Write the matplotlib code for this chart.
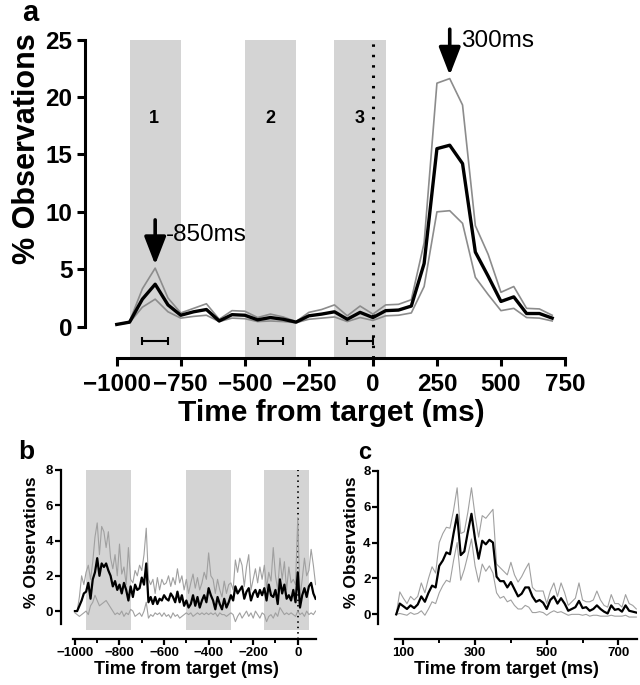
import numpy as np
import matplotlib
matplotlib.use("Agg")
from matplotlib import pyplot as plt

plt.rcParams['font.family'] = ['Liberation Sans', 'DejaVu Sans']
plt.rcParams['font.weight'] = 'bold'

# ---- panel a: 50 ms bins ----
t_a = list(range(-1000, 701, 50))
mean_a = [0.2, 0.4, 2.4, 3.7, 1.9, 1.0, 1.3, 1.5, 0.5, 1.05, 1.0, 0.6, 0.8, 0.65, 0.4,
          0.95, 1.1, 1.3, 0.65, 1.25, 0.8, 1.4, 1.45, 1.8, 5.5, 15.5, 15.8, 14.2, 6.5, 4.4,
          2.2, 2.6, 1.15, 1.15, 0.75]
upper_a = [0.2, 0.45, 3.3, 5.1, 2.5, 1.2, 1.6, 2.0, 0.65, 1.4, 1.35, 0.8, 1.1, 0.85, 0.45,
           1.25, 1.5, 1.9, 0.95, 1.8, 1.1, 1.9, 1.95, 2.35, 7.3, 21.2, 21.6, 19.3, 8.8, 6.3,
           3.0, 3.5, 1.6, 1.55, 1.0]
lower_a = [0.2, 0.35, 1.7, 2.4, 1.3, 0.75, 0.9, 1.0, 0.45, 0.75, 0.7, 0.45, 0.5, 0.45, 0.35,
           0.65, 0.75, 0.85, 0.45, 0.8, 0.55, 0.95, 1.0, 1.2, 3.5, 10.0, 10.1, 9.0, 4.3, 2.8,
           1.4, 1.6, 0.8, 0.75, 0.5]

# analysis windows (shaded) and their labels
windows = [(-950, -750), (-500, -300), (-150, 50)]
window_names = ['1', '2', '3']
window_label_x = [-855, -400, -52]
# horizontal bars under the curve
bar_centers = [-850, -400, -50]
bar_half = 50
bar_y = -1.2

# ---- panel b: 10 ms bins before target ----
t_b = list(range(-1000, 81, 10))
mean_b = [0.0, 0.0, 0.3, 0.6, 1.0,
          1.1, 1.6, 0.7, 1.8, 2.2, 3.0,
          2.0, 2.7, 2.5, 2.7, 2.3,
          2.0, 1.4, 1.7, 1.2, 1.5,
          1.0, 1.6, 1.2, 0.6, 1.4,
          0.8, 1.5, 1.2, 1.3, 1.9,
          1.5, 2.7, 0.5, 0.8, 0.4, 0.8, 0.4, 0.7, 0.6, 0.9,
          0.7, 0.6, 1.0, 0.8, 0.5, 1.1, 0.5, 0.9, 0.3, 0.6,
          0.2, 0.4, 0.9, 0.3, 0.8, 0.2, 0.6, 0.9, 0.5, 1.3,
          0.9, 0.6, 0.1, 0.8, 0.4, 0.1, 0.7, 0.2, 0.5, 0.9,
          0.6, 1.4, 1.0, 1.2, 1.4, 0.7, 1.1, 1.3, 0.6, 1.0,
          1.2, 0.8, 1.2, 0.9, 1.3, 0.6, 1.5, 0.9, 0.8, 1.2,
          0.4, 1.8, 1.0, 1.5, 0.7, 0.9, 0.6, 1.2, 0.5, 2.2,
          0.2, 0.9, 1.3, 0.8, 1.4, 1.6, 1.0, 0.7]
upper_b = [0.0, 0.0, 0.8, 2.0, 1.5, 2.2, 2.6, 1.8, 2.8, 4.2,
           5.0, 3.2, 4.8, 4.5, 3.6, 4.5, 3.0, 2.4, 3.2, 2.0,
           3.8, 2.1, 2.5, 1.5, 3.6, 1.8, 1.6, 2.3, 2.0, 2.6,
           2.3, 3.2, 4.7, 1.8, 1.5, 1.8, 1.0, 1.9, 1.2, 1.8,
           1.5, 1.6, 2.0, 1.4, 1.9, 1.5, 2.4, 1.6, 2.0, 1.2,
           1.8, 1.0, 1.6, 2.1, 1.3, 1.9, 1.2, 1.6, 2.2, 1.8,
           3.3, 2.0, 1.8, 1.0, 1.8, 1.2, 0.8, 1.7, 1.0, 1.5,
           1.6, 1.2, 2.9, 2.2, 3.0, 2.6, 1.4, 2.5, 3.2, 1.2,
           1.8, 2.4, 1.6, 2.5, 1.8, 2.6, 1.3, 2.2, 1.7, 3.6,
           2.0, 1.2, 3.0, 1.8, 2.8, 1.2, 2.5, 1.6, 1.8, 1.5,
           5.3, 0.8, 1.8, 3.0, 2.0, 2.3, 3.5, 2.6, 1.5]
lower_b = [-0.1, -0.2, -0.3, -0.2, -0.1, 0.0, -0.2, 0.3, 0.5, 0.9,
           0.6, 0.3, 0.4, 0.5, 0.6, 0.4, 0.2, 0.0, -0.2, -0.1,
           -0.2, 0.0, -0.3, -0.1, -0.2, 0.1, 0.0, -0.3, -0.2, -0.1,
           -0.3, 0.0, 0.5, -0.4, -0.2, -0.3, -0.1, -0.2, -0.1, -0.3,
           -0.1, -0.3, -0.2, -0.4, -0.1, -0.3, -0.2, -0.4, -0.3, -0.2,
           -0.1, -0.2, -0.1, -0.3, -0.2, -0.1, -0.2, -0.1, -0.2, -0.1,
           -0.2, -0.1, -0.2, -0.1, -0.3, -0.1, -0.2, -0.2, -0.3, -0.2,
           -0.1, -0.2, -0.6, -0.3, -0.1, -0.4, -0.2, 0.0, -0.3, -0.1,
           -0.4, 0.0, -0.2, -0.4, -0.1, -0.2, -0.6, -0.3, -0.2, -0.4,
           -0.1, -0.3, 0.2, 0.0, -0.2, -0.1, -0.2, -0.1, -0.2, -0.3,
           0.0, -0.2, -0.1, -0.3, 0.0, -0.2, -0.1, -0.2, 0.0]

# ---- panel c: 10 ms bins after target ----
t_c = list(range(80, 751, 10))
mean_c = [0.0, 0.6, 0.45, 0.3, 0.5, 0.35, 0.55, 1.0, 0.7, 1.2,
          1.6, 1.5, 2.7, 3.0, 3.45, 3.35, 4.5, 5.55, 3.3, 3.5,
          4.6, 5.6, 4.2, 3.1, 4.1, 3.9, 4.15, 4.0, 2.1, 1.85,
          1.85, 1.5, 1.8, 1.4, 1.0, 1.15, 1.5, 1.5, 1.0, 0.7,
          0.8, 0.65, 0.3, 0.8, 1.0, 0.6, 0.9, 0.6, 0.2, 0.3,
          0.4, 0.75, 0.35, 0.4, 0.2, 0.3, 0.5, 0.3, 0.15, 0.05,
          0.5, 0.25, 0.3, 0.15, 0.5, 0.2, 0.15, 0.1]
upper_c = [0.0, 1.25, 0.9, 0.6, 1.0, 0.8, 1.0, 1.75, 1.2, 2.0,
           2.65, 2.3, 4.0, 4.5, 4.85, 4.8, 5.8, 7.05, 4.5, 4.6,
           5.7, 7.05, 5.5, 4.3, 5.5, 5.35, 5.6, 5.85, 2.8, 2.6,
           2.4, 2.2, 2.9, 2.2, 1.8, 2.1, 2.5, 2.85, 1.5, 1.3,
           1.3, 1.3, 0.6, 1.3, 1.75, 1.0, 1.75, 1.2, 0.5, 0.7,
           0.9, 1.75, 0.8, 0.7, 0.7, 0.8, 1.3, 0.8, 0.5, 0.4,
           1.1, 0.6, 0.6, 0.4, 1.1, 0.6, 0.5, 0.3]
lower_c = [0.0, 0.05, 0.0, -0.05, 0.1, 0.0, 0.05, 0.2, -0.05, 0.3,
           0.7, 0.6, 1.2, 1.6, 1.9, 1.8, 3.0, 4.0, 1.9, 2.5,
           3.3, 4.2, 2.7, 1.8, 2.8, 2.4, 2.7, 2.3, 1.2, 0.9,
           1.0, 0.7, 0.8, 0.5, 0.3, 0.3, 0.5, 0.4, 0.1, 0.1,
           0.15, 0.1, -0.05, 0.1, 0.2, 0.1, 0.15, 0.05, -0.05, 0.0,
           0.0, 0.0, -0.05, 0.0, -0.1, -0.05, -0.05, -0.1, -0.1, -0.1,
           -0.05, -0.1, -0.1, -0.1, -0.05, -0.15, -0.15, -0.15]

shade = '#d4d4d4'

fig = plt.figure(figsize=(6.4, 6.85), dpi=100)

# ================= panel a =================
ax = fig.add_axes([0.1328, 0.4774, 0.75, 0.4649])
for (x0, x1) in windows:
    ax.axvspan(x0, x1, color=shade, lw=0, zorder=0)
ax.axvline(0, color='k', lw=2.2, linestyle=(0, (0.8, 2.6)), zorder=1)
ax.plot(t_a, upper_a, color='#8c8c8c', lw=1.2, zorder=2)
ax.plot(t_a, lower_a, color='#8c8c8c', lw=1.2, zorder=2)
ax.plot(t_a, mean_a, color='k', lw=2.4, zorder=3)
ax.errorbar(bar_centers, [bar_y] * len(bar_centers), xerr=bar_half, fmt='none',
            ecolor='k', elinewidth=1.5, capsize=3, capthick=1.5, zorder=4)
for name, x in zip(window_names, window_label_x):
    ax.text(x, 18.1, name, ha='center', va='center', fontsize=13, fontweight='bold')

arrow = dict(arrowstyle='-|>,head_length=0.85,head_width=0.33', lw=2.6, color='k',
             shrinkA=0, shrinkB=0, mutation_scale=20)
ax.annotate('', xy=(-850, 5.4), xytext=(-850, 9.3), arrowprops=arrow)
ax.text(-810, 8.0, '-850ms', fontsize=17.5, fontweight='normal', ha='left', va='center')
ax.annotate('', xy=(300, 21.9), xytext=(300, 25.9), arrowprops=arrow, annotation_clip=False)
ax.text(345, 24.85, '300ms', fontsize=17.5, fontweight='normal', ha='left', va='center')

ax.set_xlim(-1124, 750)
ax.set_ylim(-2.72, 25)
ax.spines['top'].set_visible(False)
ax.spines['right'].set_visible(False)
ax.spines['left'].set_bounds(0, 25)
ax.spines['bottom'].set_bounds(-1000, 750)
for s in ['left', 'bottom']:
    ax.spines[s].set_linewidth(2.2)
ax.set_xticks([-1000, -750, -500, -250, 0, 250, 500, 750])
ax.set_yticks([0, 5, 10, 15, 20, 25])
ax.tick_params(axis='both', length=6, width=2.2, labelsize=17.5)
ax.tick_params(axis='y', pad=3)
ax.tick_params(axis='x', pad=5)
for lab in ax.get_xticklabels() + ax.get_yticklabels():
    lab.set_fontweight('bold')
ax.set_ylabel('% Observations', fontsize=22, fontweight='bold', va='center')
ax.yaxis.set_label_coords(-0.12, 0.656)
ax.set_xlabel('Time from target (ms)', fontsize=21.5, fontweight='bold', va='center')
ax.xaxis.set_label_coords(0.5135, -0.172)
fig.text(0.047, 0.981, 'a', fontsize=21, fontweight='bold', ha='center', va='center')

# ================= panel b =================
axb = fig.add_axes([0.0948, 0.0667, 0.399, 0.2472])
for (x0, x1) in windows:
    axb.fill_between([x0, x1], -1.08, 8, color=shade, lw=0, zorder=0)
axb.axvline(0, color='k', lw=1.3, linestyle=(0, (0.8, 2.2)), zorder=1)
axb.plot(t_b, upper_b, color='#a0a0a0', lw=0.8, zorder=2)
axb.plot(t_b, lower_b, color='#a0a0a0', lw=0.8, zorder=2)
axb.plot(t_b, mean_b, color='k', lw=1.6, zorder=3)
axb.set_xlim(-1064, 82)
axb.set_ylim(-1.6, 8)
axb.spines['top'].set_visible(False)
axb.spines['right'].set_visible(False)
axb.spines['left'].set_bounds(-0.75, 8)
axb.spines['bottom'].set_bounds(-1010, 82)
for s in ['left', 'bottom']:
    axb.spines[s].set_linewidth(1.6)
axb.set_xticks([-1000, -800, -600, -400, -200, 0])
axb.set_xticks([-900, -700, -500, -300, -100], minor=True)
axb.set_yticks([0, 2, 4, 6, 8])
axb.tick_params(axis='both', length=4, width=1.6, labelsize=9.5, pad=1.5)
axb.tick_params(axis='x', which='minor', length=3, width=1.4)
for lab in axb.get_xticklabels() + axb.get_yticklabels():
    lab.set_fontweight('bold')
axb.set_ylabel('% Observations', fontsize=12.5, fontweight='bold', va='center')
axb.yaxis.set_label_coords(-0.1135, 0.572)
axb.set_xlabel('Time from target (ms)', fontsize=13, fontweight='bold', va='center')
axb.xaxis.set_label_coords(0.493, -0.178)
fig.text(0.041, 0.340, 'b', fontsize=19, fontweight='bold', ha='center', va='center')

# ================= panel c =================
axc = fig.add_axes([0.5911, 0.0667, 0.4037, 0.2461])
axc.plot(t_c, upper_c, color='#a0a0a0', lw=0.8, zorder=2)
axc.plot(t_c, lower_c, color='#a0a0a0', lw=0.8, zorder=2)
axc.plot(t_c, mean_c, color='k', lw=1.6, zorder=3)
axc.set_xlim(30, 751)
axc.set_ylim(-1.39, 8)
axc.spines['top'].set_visible(False)
axc.spines['right'].set_visible(False)
axc.spines['left'].set_bounds(-0.54, 8)
axc.spines['bottom'].set_bounds(77, 751)
for s in ['left', 'bottom']:
    axc.spines[s].set_linewidth(1.6)
axc.set_xticks([100, 300, 500, 700])
axc.set_xticks([200, 400, 600], minor=True)
axc.set_yticks([0, 2, 4, 6, 8])
axc.tick_params(axis='both', length=4, width=1.6, labelsize=9.5, pad=1.5)
axc.tick_params(axis='x', which='minor', length=3, width=1.4)
for lab in axc.get_xticklabels() + axc.get_yticklabels():
    lab.set_fontweight('bold')
axc.set_ylabel('% Observations', fontsize=12.5, fontweight='bold', va='center')
axc.yaxis.set_label_coords(-0.104, 0.574)
axc.set_xlabel('Time from target (ms)', fontsize=13, fontweight='bold', va='center')
axc.xaxis.set_label_coords(0.497, -0.178)
fig.text(0.5695, 0.339, 'c', fontsize=17, fontweight='bold', ha='center', va='center')

fig.savefig('out.png', dpi=100)
